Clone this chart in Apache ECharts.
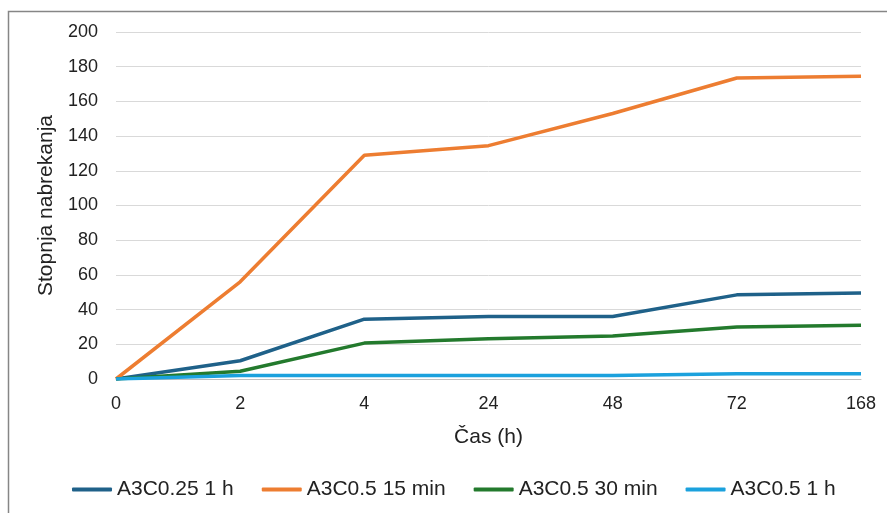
<!DOCTYPE html>
<html><head><meta charset="utf-8">
<script src="https://cdn.jsdelivr.net/npm/echarts@6/dist/echarts.min.js"></script>
<style>html,body{margin:0;padding:0;background:#fff}#c{width:887px;height:513px}</style>
</head><body><div id="c"></div>
<script>
const categories = ['0','2','4','24','48','72','168'];
const seriesNames = ['A3C0.25 1 h','A3C0.5 15 min','A3C0.5 30 min','A3C0.5 1 h'];
const s1 = [0, 10.5, 34.5, 36, 36, 48.5, 49.5];
const s2 = [0, 56, 129, 134.5, 153, 173.5, 174.5];
const s3 = [0, 4.5, 20.7, 23.2, 24.8, 30, 31];
const s4 = [0, 2, 2, 2, 2, 3, 3];
const yTicks = {min: 0, max: 200, interval: 20};
const colors = ['#1f6189','#ed7d31','#237a2d','#1ba1dd'];
const chart = echarts.init(document.getElementById('c'));
const font = 'Liberation Sans, Arial, sans-serif';
chart.setOption({
  animation: false,
  textStyle: {fontFamily: font},
  graphic: [{type:'rect', shape:{x:8.5,y:11.5,width:900,height:520}, style:{fill:'none', stroke:'#868686', lineWidth:1.5}, z:-1}],
  grid: {left:116, right:26, top:32, bottom:134},
  legend: {
    top: 474, left: 67, itemGap: 28, itemWidth: 40, itemHeight: 4,
    icon: 'roundRect',
    textStyle: {fontFamily: font, fontSize: 21, color: '#222'},
    data: seriesNames
  },
  xAxis: {
    type: 'category', data: categories, boundaryGap: false,
    name: 'Čas (h)', nameLocation: 'middle', nameGap: 48,
    nameTextStyle: {fontFamily: font, fontSize: 21, color:'#222'},
    axisLine: {lineStyle: {color:'#bfbfbf', width:1}},
    axisTick: {show:false},
    axisLabel: {fontFamily: font, fontSize: 18, color:'#222', margin: 16}
  },
  yAxis: {
    type: 'value', min: yTicks.min, max: yTicks.max, interval: yTicks.interval,
    name: 'Stopnja nabrekanja', nameLocation: 'middle', nameGap: 59,
    nameTextStyle: {fontFamily: font, fontSize: 21, color:'#222'},
    axisLine: {show:false}, axisTick: {show:false},
    axisLabel: {fontFamily: font, fontSize: 18, color:'#222', margin: 18},
    splitLine: {lineStyle: {color:'#d9d9d9', width:1}}
  },
  series: [s1,s2,s3,s4].map((d,i)=>({
    name: seriesNames[i], type:'line', data:d, symbol:'none',
    lineStyle:{width:3.5, color:colors[i]}, itemStyle:{color:colors[i]}
  }))
});
</script></body></html>
